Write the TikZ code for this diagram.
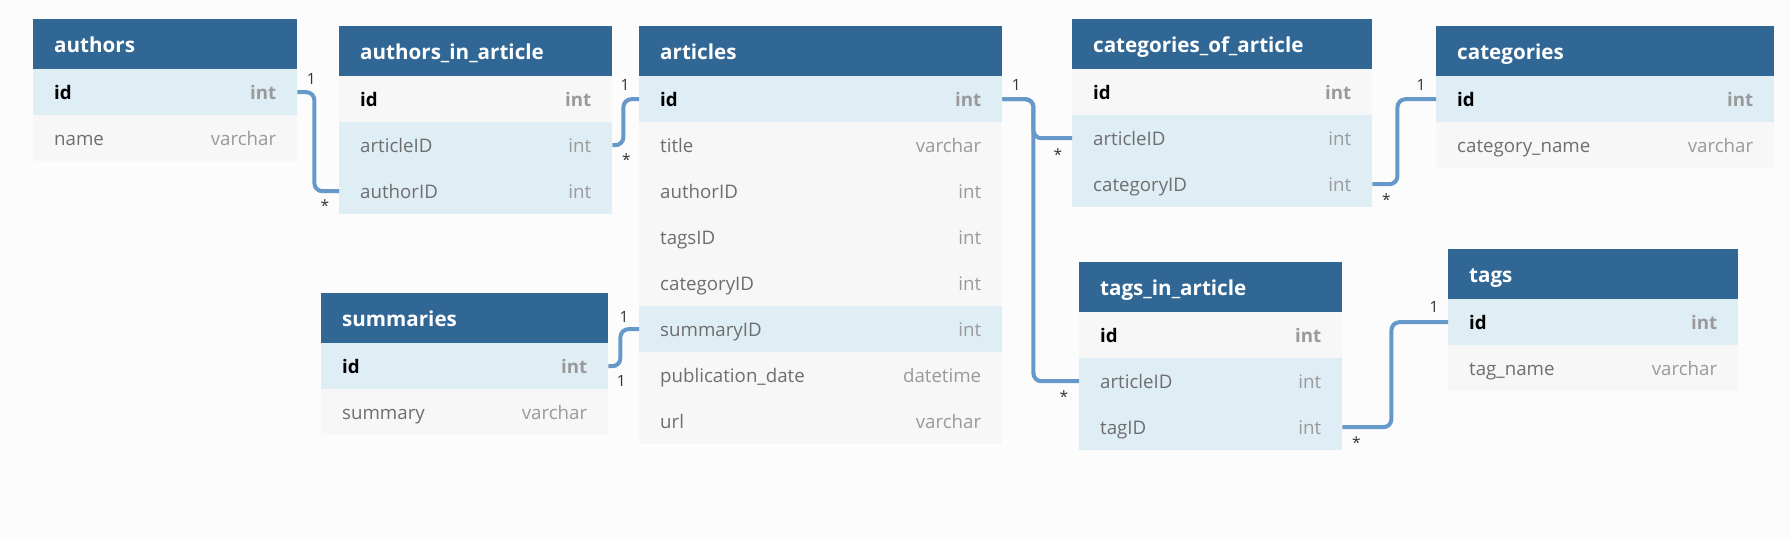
\documentclass[tikz,border=0pt]{standalone}
\usepackage{fontspec}
\setmainfont{Open Sans}
\usepackage{tikz}
\definecolor{headblue}{HTML}{316795}
\definecolor{keyfill}{HTML}{DFEDF5}
\definecolor{plainfill}{HTML}{F7F7F7}
\definecolor{pagebg}{HTML}{FCFCFC}
\definecolor{fieldgray}{HTML}{6E6E6E}
\definecolor{typegray}{HTML}{9A9A9A}
\definecolor{linkblue}{HTML}{6699C9}

\begin{document}
\begin{tikzpicture}[x=1pt,y=-1pt,
        tablehead/.style={fill=headblue,text=white,anchor=north west,
          font=\fontsize{20.6}{24}\selectfont\bfseries,align=left,
          minimum height=50pt,inner xsep=21pt,inner ysep=0pt,
          text height=20pt,text depth=4pt},
        row/.style={anchor=north west,align=left,text=fieldgray,
          font=\fontsize{18.7}{22}\selectfont,
          minimum height=46pt,inner xsep=21pt,inner ysep=0pt,
          text height=18pt,text depth=4pt},
        keyrow/.style={row,fill=keyfill,text=black,
          font=\fontsize{18.7}{22}\selectfont\bfseries},
        keyplain/.style={row,fill=plainfill,text=black,
          font=\fontsize{18.7}{22}\selectfont\bfseries},
        fkrow/.style={row,fill=keyfill},
        plainrow/.style={row,fill=plainfill},
        relation/.style={draw=linkblue,line width=4pt,rounded corners=8pt},
        card/.style={font=\fontsize{15.5}{18}\selectfont,text=black!80,inner sep=0pt}]
      \fill[pagebg] (0,0) rectangle (1790,540);
      % authors
      \node[tablehead,text width=222pt] (authors) at (33,19) {authors};
      \foreach \f/\t/\s [count=\i] in {id/int/keyrow,name/varchar/plainrow}
        \node[\s,text width=222pt] (authors-\i) at (33,{69+46*(\i-1)}) {\f\hfill\textcolor{typegray}{\t}};
      % authors_in_article
      \node[tablehead,text width=231pt] (aia) at (339,26) {authors\_in\_article};
      \foreach \f/\t/\s [count=\i] in {id/int/keyplain,articleID/int/fkrow,authorID/int/fkrow}
        \node[\s,text width=231pt] (aia-\i) at (339,{76+46*(\i-1)}) {\f\hfill\textcolor{typegray}{\t}};
      % articles
      \node[tablehead,text width=321pt] (articles) at (639,26) {articles};
      \foreach \f/\t/\s [count=\i] in {id/int/keyrow,title/varchar/plainrow,
          authorID/int/plainrow,tagsID/int/plainrow,categoryID/int/plainrow,
          summaryID/int/fkrow,publication\_date/datetime/plainrow,url/varchar/plainrow}
        \node[\s,text width=321pt] (articles-\i) at (639,{76+46*(\i-1)}) {\f\hfill\textcolor{typegray}{\t}};
      % categories_of_article
      \node[tablehead,text width=258pt] (coa) at (1072,19) {categories\_of\_article};
      \foreach \f/\t/\s [count=\i] in {id/int/keyplain,articleID/int/fkrow,categoryID/int/fkrow}
        \node[\s,text width=258pt] (coa-\i) at (1072,{69+46*(\i-1)}) {\f\hfill\textcolor{typegray}{\t}};
      % categories
      \node[tablehead,text width=296pt] (categories) at (1436,26) {categories};
      \foreach \f/\t/\s [count=\i] in {id/int/keyrow,category\_name/varchar/plainrow}
        \node[\s,text width=296pt] (categories-\i) at (1436,{76+46*(\i-1)}) {\f\hfill\textcolor{typegray}{\t}};
      % summaries
      \node[tablehead,text width=245pt] (summaries) at (321,293) {summaries};
      \foreach \f/\t/\s [count=\i] in {id/int/keyrow,summary/varchar/plainrow}
        \node[\s,text width=245pt] (summaries-\i) at (321,{343+46*(\i-1)}) {\f\hfill\textcolor{typegray}{\t}};
      % tags_in_article
      \node[tablehead,text width=221pt] (tia) at (1079,262) {tags\_in\_article};
      \foreach \f/\t/\s [count=\i] in {id/int/keyplain,articleID/int/fkrow,tagID/int/fkrow}
        \node[\s,text width=221pt] (tia-\i) at (1079,{312+46*(\i-1)}) {\f\hfill\textcolor{typegray}{\t}};
      % tags
      \node[tablehead,text width=248pt] (tags) at (1448,249) {tags};
      \foreach \f/\t/\s [count=\i] in {id/int/keyrow,tag\_name/varchar/plainrow}
        \node[\s,text width=248pt] (tags-\i) at (1448,{299+46*(\i-1)}) {\f\hfill\textcolor{typegray}{\t}};

      % references
      \draw[relation] (authors-1.east) -- ++(17,0) |- (aia-3.west);
      \draw[relation] (aia-2.east) -- ++(11,0) |- (articles-1.west);
      \draw[relation] (summaries-1.east) -- ++(12,0) |- (articles-6.west);
      \draw[relation] (articles-1.east) -- ++(31,0) |- (coa-2.west);
      \draw[relation] (articles-1.east) -- ++(31,0) |- (tia-2.west);
      \draw[relation] (coa-3.east) -- ++(25,0) |- (categories-1.west);
      \draw[relation] (tia-3.east) -- ++(49,0) |- (tags-1.west);

      % cardinalities
      \node[card] (c1-one) at ([xshift=14pt,yshift=13pt]authors-1.east) {1};
      \node[card] (c1-many) at ([xshift=-14pt,yshift=-14pt]aia-3.west) {*};
      \node[card] (c2-many) at ([xshift=14pt,yshift=-14pt]aia-2.east) {*};
      \node[card] (c2-one) at ([xshift=-14pt,yshift=14pt]articles-1.west) {1};
      \node[card] (c3-one) at ([xshift=13pt,yshift=-15pt]summaries-1.east) {1};
      \node[card] (c3-two) at ([xshift=-15pt,yshift=12pt]articles-6.west) {1};
      \node[card] (c4-one) at ([xshift=14pt,yshift=14pt]articles-1.east) {1};
      \node[card] (c4-many) at ([xshift=-14pt,yshift=-16pt]coa-2.west) {*};
      \node[card] (c5-many) at ([xshift=-15pt,yshift=-15pt]tia-2.west) {*};
      \node[card] (c6-many) at ([xshift=14pt,yshift=-15pt]coa-3.east) {*};
      \node[card] (c6-one) at ([xshift=-15pt,yshift=14pt]categories-1.west) {1};
      \node[card] (c7-many) at ([xshift=14pt,yshift=-15pt]tia-3.east) {*};
      \node[card] (c7-one) at ([xshift=-14pt,yshift=15pt]tags-1.west) {1};
    \end{tikzpicture}
\end{document}
